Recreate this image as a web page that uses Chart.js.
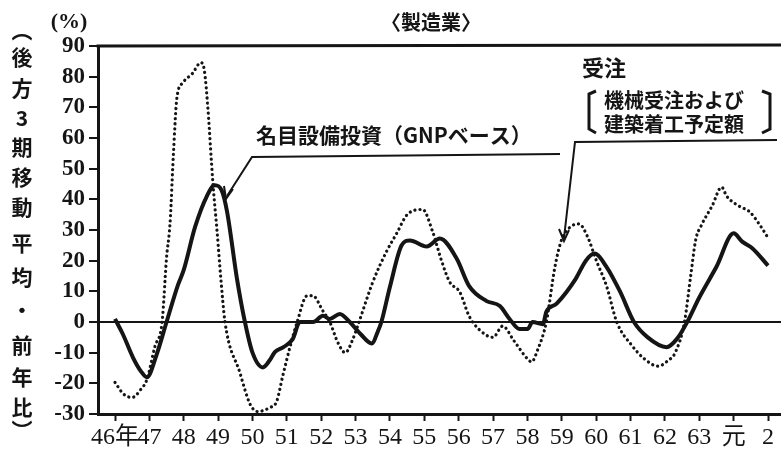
<!DOCTYPE html>
<html>
<head>
<meta charset="utf-8">
<script src="https://cdn.jsdelivr.net/npm/chart.js@4/dist/chart.umd.min.js"></script>
<style>
  html, body { margin: 0; padding: 0; background: #fff; }
  #wrap { width: 781px; height: 452px; position: relative; }
</style>
</head>
<body>
<div id="wrap"><canvas id="c" width="781" height="452"></canvas></div>
<script>
// ---- data (Showa-continuous years: 64 = 元, 65 = 2) ----
const xTickYears = [46,47,48,49,50,51,52,53,54,55,56,57,58,59,60,61,62,63,64,65];
const xLabels = ['46年','47','48','49','50','51','52','53','54','55','56','57','58','59','60','61','62','63','元','2'];
const yTicks = [-30,-20,-10,0,10,20,30,40,50,60,70,80,90];

// 名目設備投資（GNPベース） — solid line
const investT = [46.0,46.23,46.52,46.75,46.93,47.2,47.5,47.83,48.0,48.33,48.67,48.9,49.1,49.26,49.55,49.78,50.0,50.3,50.5,50.65,50.9,51.17,51.38,51.76,52.05,52.25,52.54,52.83,53.15,53.47,53.65,53.75,54.0,54.34,54.58,55.07,55.45,55.94,56.3,56.8,57.2,57.48,57.77,58.0,58.15,58.45,58.55,58.85,59.4,59.7,59.95,60.3,60.7,61.1,61.5,62.05,62.35,62.65,63.0,63.5,64.0,64.25,64.55,65.0];
const investV = [1,-4,-11.5,-16,-18,-11,0,12,17,31,41,44.6,43,36,14,0,-10,-14.8,-12.5,-9.8,-8.2,-5.6,0,0,2,1,2.6,0,-4,-7,-3,0,11.5,25,26.6,24.6,27.2,20.7,11.8,6.9,5.2,1,-2.3,-2.3,0,-0.7,3.3,6,14,20,22.3,18,9.8,0,-5,-8.2,-5.5,0,8,18,28.9,26.2,24,18.4];

// 受注（機械受注および建築着工予定額） — dotted line
const orderT = [46.0,46.25,46.5,46.75,46.93,47.16,47.37,47.5,47.6,47.7,47.8,47.97,48.25,48.5,48.6,48.7,48.85,48.97,49.08,49.2,49.63,49.93,50.15,50.5,50.7,50.88,51.1,51.3,51.58,51.75,52.05,52.25,52.48,52.7,52.92,53.1,53.5,53.9,54.2,54.5,54.95,55.24,55.5,55.74,56.03,56.3,56.6,57.0,57.28,57.6,58.0,58.12,58.3,58.55,58.8,59.0,59.25,59.5,59.73,60.02,60.3,60.6,61.05,61.4,61.8,62.1,62.3,62.57,62.75,62.9,63.06,63.38,63.65,63.8,64.17,64.46,64.77,64.97];
const orderV = [-19.7,-23.5,-24.6,-22,-18.7,-8,0,21,32,55,73,78,81,84.6,82,70,45,29.5,14,0,-16.4,-26.8,-29.2,-27.9,-26,-17.6,-7.8,0,8.5,8.6,3.6,0,-6.6,-10,-5.6,0,13,23,29,35,36.7,29.5,20,13,9.8,2,-2.5,-5,-1.3,-6,-12,-13,-9,0,18,27,31,32,28.3,19.6,11.8,0,-7.8,-12,-14.4,-12.5,-10,0,15,27,31.5,38,44,41,37.7,36,31.5,28];

const INK = '#151515';
const SERIF = '"Liberation Serif", "Times New Roman", "Noto Sans CJK JP", serif';
const JP = '"Noto Sans CJK JP", "Noto Sans", sans-serif';

const annot = {
  id: 'annot',
  afterDraw(chart) {
    const ctx = chart.ctx;
    const a = chart.chartArea;
    ctx.save();
    // top border
    ctx.strokeStyle = INK;
    ctx.lineWidth = 3;
    ctx.beginPath();
    ctx.moveTo(a.left - 1.5, a.top);
    ctx.lineTo(a.right, a.top - 1);
    ctx.stroke();

    ctx.fillStyle = INK;
    ctx.textAlign = 'center';
    ctx.textBaseline = 'middle';
    // title
    ctx.font = 'bold 20px ' + JP;
    ctx.fillText('〈製造業〉', 431, 22);
    // unit
    ctx.font = 'bold 22px ' + SERIF;
    ctx.fillText('(%)', 69, 22);
    // vertical axis caption
    ctx.font = 'bold 21px ' + JP;
    const vchars = ['︵','後','方','3','期','移','動','平','均','・','前','年','比','︶'];
    const vy = [30,57,88,118,147,177,207,243,277,310,345,377,407,430];
    vchars.forEach((ch, i) => ctx.fillText(ch, 22, vy[i]));

    // 名目設備投資 label + leader
    ctx.font = 'bold 21px ' + JP;
    ctx.textAlign = 'left';
    ctx.fillText('名目設備投資（GNPベース）', 256, 135, 292);
    ctx.lineWidth = 2;
    ctx.beginPath();
    ctx.moveTo(560, 154);
    ctx.lineTo(252, 157);
    ctx.lineTo(227, 196);
    ctx.stroke();
    ctx.beginPath();
    ctx.moveTo(224, 186);
    ctx.lineTo(226, 199);
    ctx.lineTo(233, 189);
    ctx.stroke();

    // 受注 label + leader
    ctx.font = 'bold 22px ' + JP;
    ctx.fillText('受注', 582, 68);
    ctx.font = 'bold 20px ' + JP;
    ctx.fillText('機械受注および', 604, 100, 150);
    ctx.fillText('建築着工予定額', 604, 124, 154);
    ctx.lineWidth = 3;
    ctx.beginPath();
    ctx.moveTo(596, 91); ctx.lineTo(589, 94); ctx.lineTo(589, 129); ctx.lineTo(596, 133);
    ctx.stroke();
    ctx.beginPath();
    ctx.moveTo(762, 91); ctx.lineTo(770, 94); ctx.lineTo(770, 129); ctx.lineTo(762, 133);
    ctx.stroke();
    ctx.lineWidth = 2;
    ctx.beginPath();
    ctx.moveTo(777, 140);
    ctx.lineTo(575, 142);
    ctx.lineTo(564, 238);
    ctx.stroke();
    ctx.beginPath();
    ctx.moveTo(559, 229);
    ctx.lineTo(564, 241);
    ctx.lineTo(569, 230);
    ctx.stroke();
    ctx.restore();
  }
};

new Chart(document.getElementById('c'), {
  type: 'line',
  data: {
    datasets: [
      {
        label: '受注',
        data: orderT.map((t, i) => ({ x: t, y: orderV[i] })),
        borderColor: INK,
        borderWidth: 3.2,
        borderDash: [0.1, 5],
        borderCapStyle: 'round',
        pointRadius: 0,
        cubicInterpolationMode: 'monotone',
        fill: false
      },
      {
        label: '名目設備投資（GNPベース）',
        data: investT.map((t, i) => ({ x: t, y: investV[i] })),
        borderColor: INK,
        borderWidth: 4,
        pointRadius: 0,
        cubicInterpolationMode: 'monotone',
        fill: false
      }
    ]
  },
  options: {
    responsive: false,
    animation: false,
    devicePixelRatio: 1,
    layout: { padding: { top: 46, right: 0, left: 0, bottom: 0 } },
    plugins: { legend: { display: false }, tooltip: { enabled: false }, title: { display: false } },
    scales: {
      x: {
        type: 'linear',
        min: 45.505,
        max: 65.378,
        afterBuildTicks(scale) { scale.ticks = xTickYears.map(v => ({ value: v })); },
        afterFit(scale) { scale.height = 38; },
        ticks: {
          autoSkip: false,
          maxRotation: 0,
          color: INK,
          padding: 2,
          font: { family: SERIF, size: 24 },
          callback(value) { const i = xTickYears.indexOf(value); return i >= 0 ? xLabels[i] : ''; }
        },
        grid: { drawOnChartArea: false, drawTicks: true, tickLength: 7, tickWidth: 2, tickColor: INK },
        border: { display: true, color: INK, width: 3 }
      },
      y: {
        type: 'linear',
        min: -30,
        max: 90,
        afterBuildTicks(scale) { scale.ticks = yTicks.map(v => ({ value: v })); },
        afterFit(scale) { scale.width = 98; },
        ticks: {
          color: INK,
          padding: 4,
          font: { family: SERIF, size: 23, weight: 'bold' },
          callback(value) { return String(value); }
        },
        grid: {
          drawOnChartArea: true,
          color: (c) => (c.tick && c.tick.value === 0) ? INK : 'rgba(0,0,0,0)',
          lineWidth: 2,
          drawTicks: true,
          tickLength: 9,
          tickWidth: 2,
          tickColor: INK
        },
        border: { display: true, color: INK, width: 3 }
      }
    }
  },
  plugins: [annot]
});
</script>
</body>
</html>
